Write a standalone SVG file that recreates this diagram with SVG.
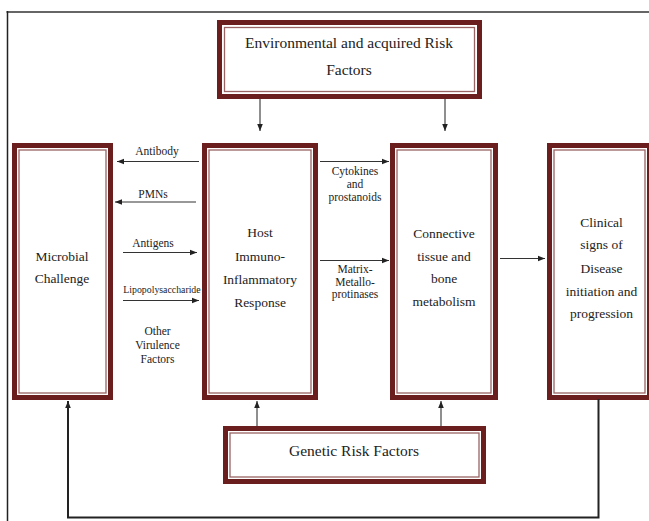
<svg xmlns="http://www.w3.org/2000/svg" width="649" height="521" viewBox="0 0 649 521" font-family="'Liberation Serif', 'Times New Roman', 'DejaVu Serif', serif">
<style>
.ob{fill:#fff;stroke:#6a1e1e;stroke-width:5}
.ib{fill:none;stroke:#9a6464;stroke-width:1.3}
text{font-family:'Liberation Serif','Times New Roman','DejaVu Serif',serif;fill:#222;text-anchor:middle}
.big{font-size:13.5px}
.hd{font-size:15.5px}
.sm{font-size:11.5px}
.xs{font-size:9.8px}
.c{stroke:#333;stroke-width:1.1;fill:none}
.fb{stroke:#222;stroke-width:2;fill:none}
</style>
<defs>
<marker id="a" viewBox="0 0 10 10" refX="10" refY="5" markerWidth="7" markerHeight="7" markerUnits="userSpaceOnUse" orient="auto">
<path d="M0,1 L10,5 L0,9 Z" fill="#222"/>
</marker>
</defs>
<g id="frame">
<line x1="6.5" y1="12" x2="649" y2="12" stroke="#666" stroke-width="2"/>
<line x1="7.5" y1="11" x2="7.5" y2="521" stroke="#222" stroke-width="1.5"/>
</g>
<g id="env">
<rect class="ob" x="219.5" y="22.5" width="260" height="74"/>
<rect class="ib" x="224.5" y="27.5" width="250" height="64"/>
<text class="hd" x="349" y="48">Environmental and acquired Risk</text>
<text class="hd" x="349" y="75">Factors</text>
</g>
<g id="microbial">
<rect class="ob" x="14.5" y="145.5" width="96" height="252"/>
<rect class="ib" x="19" y="150" width="87" height="243"/>
<text class="big" x="62" y="260.5">Microbial</text>
<text class="big" x="62" y="282.5">Challenge</text>
</g>
<g id="host">
<rect class="ob" x="204.5" y="145.5" width="111" height="252"/>
<rect class="ib" x="209" y="150" width="102" height="243"/>
<text class="big" x="260" y="237">Host</text>
<text class="big" x="260" y="260.5">Immuno-</text>
<text class="big" x="260" y="284">Inflammatory</text>
<text class="big" x="260" y="306.5">Response</text>
</g>
<g id="connective">
<rect class="ob" x="392.5" y="145.5" width="103" height="252"/>
<rect class="ib" x="397" y="150" width="94" height="243"/>
<text class="big" x="444" y="238">Connective</text>
<text class="big" x="444" y="260.5">tissue and</text>
<text class="big" x="444" y="283">bone</text>
<text class="big" x="444" y="306">metabolism</text>
</g>
<g id="clinical">
<rect class="ob" x="549.5" y="145.5" width="100" height="252"/>
<rect class="ib" x="554" y="150" width="91" height="243"/>
<text class="big" x="601.5" y="226.5">Clinical</text>
<text class="big" x="601.5" y="249">signs of</text>
<text class="big" x="601.5" y="272.5">Disease</text>
<text class="big" x="601.5" y="295.5">initiation and</text>
<text class="big" x="601.5" y="318">progression</text>
</g>
<g id="genetic">
<rect class="ob" x="225.5" y="428.5" width="258" height="53"/>
<rect class="ib" x="230" y="433" width="249" height="44"/>
<text class="hd" x="354" y="456">Genetic Risk Factors</text>
</g>
<g id="connectors">
<line class="c" x1="260" y1="99" x2="260" y2="131" marker-end="url(#a)"/>
<line class="c" x1="445" y1="99" x2="445" y2="131" marker-end="url(#a)"/>
<line class="c" x1="199" y1="161.5" x2="117" y2="161.5" marker-end="url(#a)"/>
<line class="c" x1="196" y1="202" x2="115" y2="202" marker-end="url(#a)"/>
<line class="c" x1="123" y1="252.5" x2="197" y2="252.5" marker-end="url(#a)"/>
<line class="c" x1="123" y1="300.5" x2="199" y2="300.5" marker-end="url(#a)"/>
<line class="c" x1="320" y1="161.5" x2="389" y2="161.5" marker-end="url(#a)"/>
<line class="c" x1="320" y1="260.5" x2="389" y2="260.5" marker-end="url(#a)"/>
<line class="c" x1="500" y1="258.5" x2="545" y2="258.5" marker-end="url(#a)"/>
<line class="c" x1="257" y1="426" x2="257" y2="401" marker-end="url(#a)"/>
<line class="c" x1="441" y1="426" x2="441" y2="401" marker-end="url(#a)"/>
<polyline class="fb" points="598.5,399 598.5,517.5 68,517.5 68,401" marker-end="url(#a)"/>
<text class="sm" x="157" y="155">Antibody</text>
<text class="sm" x="153" y="197.5">PMNs</text>
<text class="sm" x="153" y="246.5">Antigens</text>
<text class="xs" x="162" y="293">Lipopolysaccharide</text>
<text class="sm" x="157.5" y="335">Other</text>
<text class="sm" x="157.5" y="349">Virulence</text>
<text class="sm" x="157.5" y="363">Factors</text>
<text class="sm" x="355" y="175">Cytokines</text>
<text class="sm" x="355" y="187.5">and</text>
<text class="sm" x="355" y="200.5">prostanoids</text>
<text class="sm" x="355" y="273">Matrix-</text>
<text class="sm" x="355" y="286">Metallo-</text>
<text class="sm" x="355" y="298">protinases</text>
</g>
</svg>
